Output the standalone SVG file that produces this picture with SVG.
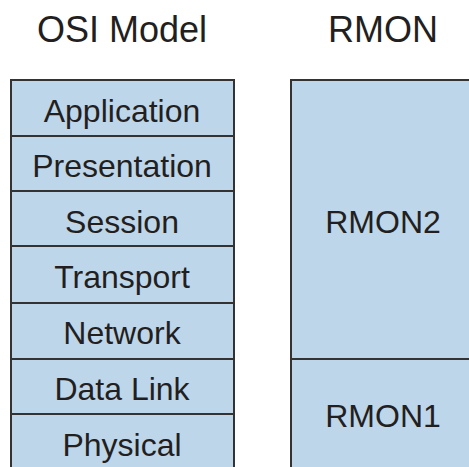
<svg xmlns="http://www.w3.org/2000/svg" width="469" height="467" viewBox="0 0 469 467">
<style>
.cell{fill:#bed6ea;stroke:#333;stroke-width:2}
.t{font-family:"Liberation Sans",Arial,sans-serif;font-size:32px;fill:#231f20;text-anchor:middle}
.h{font-family:"Liberation Sans",Arial,sans-serif;font-size:36px;fill:#231f20;text-anchor:middle}
</style>
<rect width="469" height="467" fill="#fff"/>
<g id="headers">
<text class="h" x="122" y="42">OSI Model</text>
<text class="h" x="383" y="42">RMON</text>
</g>
<g id="osi">
<g id="application"><rect class="cell" x="11" y="80" width="223" height="56"/><text class="t" x="122" y="122">Application</text></g>
<g id="presentation"><rect class="cell" x="11" y="136" width="223" height="55"/><text class="t" x="122" y="177">Presentation</text></g>
<g id="session"><rect class="cell" x="11" y="191" width="223" height="55"/><text class="t" x="122" y="233">Session</text></g>
<g id="transport"><rect class="cell" x="11" y="246" width="223" height="57"/><text class="t" x="122" y="288">Transport</text></g>
<g id="network"><rect class="cell" x="11" y="303" width="223" height="56"/><text class="t" x="122" y="344">Network</text></g>
<g id="datalink"><rect class="cell" x="11" y="359" width="223" height="55"/><text class="t" x="122" y="400">Data Link</text></g>
<g id="physical"><rect class="cell" x="11" y="414" width="223" height="60"/><text class="t" x="122" y="456">Physical</text></g>
</g>
<g id="rmon">
<g id="rmon2"><rect class="cell" x="291" y="80" width="190" height="279"/><text class="t" x="383" y="233">RMON2</text></g>
<g id="rmon1"><rect class="cell" x="291" y="359" width="190" height="115"/><text class="t" x="383" y="427">RMON1</text></g>
</g>
<g id="connectors"></g>
</svg>
